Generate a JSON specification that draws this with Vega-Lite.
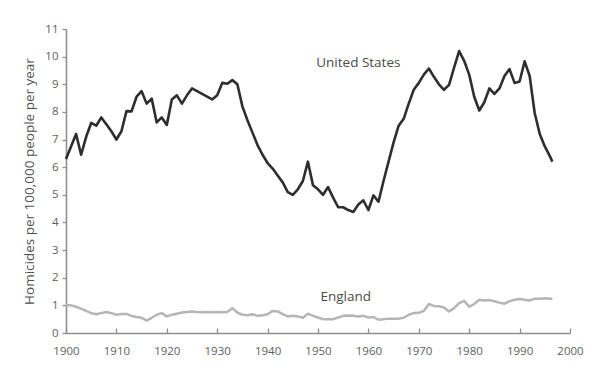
{
  "$schema": "https://vega.github.io/schema/vega-lite/v6.json",
  "width": 504,
  "height": 304,
  "autosize": {"type": "none"},
  "padding": {"left": 66, "top": 29, "right": 43, "bottom": 47},
  "background": "white",
  "config": {
    "view": {"stroke": null},
    "font": "Open Sans",
    "axis": {"grid": false, "domainColor": "#8f8f8f", "domainWidth": 1.6, "tickColor": "#8f8f8f", "tickWidth": 1.3, "labelColor": "#5e5e5e", "labelFontSize": 11.5, "titleColor": "#505050"}
  },
  "datasets": {
    "us": [
      {"year": 1900, "rate": 6.3}, {"year": 1901, "rate": 6.75}, {"year": 1902, "rate": 7.2}, {"year": 1903, "rate": 6.45},
      {"year": 1904, "rate": 7.1}, {"year": 1905, "rate": 7.6}, {"year": 1906, "rate": 7.5}, {"year": 1907, "rate": 7.8},
      {"year": 1908, "rate": 7.55}, {"year": 1909, "rate": 7.3}, {"year": 1910, "rate": 7.0}, {"year": 1911, "rate": 7.3},
      {"year": 1912, "rate": 8.03}, {"year": 1913, "rate": 8.02}, {"year": 1914, "rate": 8.55}, {"year": 1915, "rate": 8.75},
      {"year": 1916, "rate": 8.3}, {"year": 1917, "rate": 8.48}, {"year": 1918, "rate": 7.62}, {"year": 1919, "rate": 7.8},
      {"year": 1920, "rate": 7.53}, {"year": 1921, "rate": 8.45}, {"year": 1922, "rate": 8.6}, {"year": 1923, "rate": 8.3},
      {"year": 1924, "rate": 8.6}, {"year": 1925, "rate": 8.85}, {"year": 1926, "rate": 8.75}, {"year": 1927, "rate": 8.65},
      {"year": 1928, "rate": 8.55}, {"year": 1929, "rate": 8.45}, {"year": 1930, "rate": 8.6}, {"year": 1931, "rate": 9.05},
      {"year": 1932, "rate": 9.02}, {"year": 1933, "rate": 9.15}, {"year": 1934, "rate": 9.0}, {"year": 1935, "rate": 8.2},
      {"year": 1936, "rate": 7.7}, {"year": 1937, "rate": 7.25}, {"year": 1938, "rate": 6.8}, {"year": 1939, "rate": 6.45},
      {"year": 1940, "rate": 6.15}, {"year": 1941, "rate": 5.95}, {"year": 1942, "rate": 5.7}, {"year": 1943, "rate": 5.45},
      {"year": 1944, "rate": 5.1}, {"year": 1945, "rate": 5.0}, {"year": 1946, "rate": 5.2}, {"year": 1947, "rate": 5.5},
      {"year": 1948, "rate": 6.2}, {"year": 1949, "rate": 5.35}, {"year": 1950, "rate": 5.2}, {"year": 1951, "rate": 5.0},
      {"year": 1952, "rate": 5.28}, {"year": 1953, "rate": 4.9}, {"year": 1954, "rate": 4.55}, {"year": 1955, "rate": 4.55},
      {"year": 1956, "rate": 4.45}, {"year": 1957, "rate": 4.38}, {"year": 1958, "rate": 4.65}, {"year": 1959, "rate": 4.8},
      {"year": 1960, "rate": 4.45}, {"year": 1961, "rate": 4.98}, {"year": 1962, "rate": 4.75}, {"year": 1963, "rate": 5.5},
      {"year": 1964, "rate": 6.2}, {"year": 1965, "rate": 6.9}, {"year": 1966, "rate": 7.5}, {"year": 1967, "rate": 7.75},
      {"year": 1968, "rate": 8.3}, {"year": 1969, "rate": 8.8}, {"year": 1970, "rate": 9.05}, {"year": 1971, "rate": 9.35},
      {"year": 1972, "rate": 9.57}, {"year": 1973, "rate": 9.27}, {"year": 1974, "rate": 9.0}, {"year": 1975, "rate": 8.8},
      {"year": 1976, "rate": 8.98}, {"year": 1977, "rate": 9.6}, {"year": 1978, "rate": 10.2}, {"year": 1979, "rate": 9.85},
      {"year": 1980, "rate": 9.35}, {"year": 1981, "rate": 8.55}, {"year": 1982, "rate": 8.05}, {"year": 1983, "rate": 8.35},
      {"year": 1984, "rate": 8.85}, {"year": 1985, "rate": 8.65}, {"year": 1986, "rate": 8.85}, {"year": 1987, "rate": 9.3},
      {"year": 1988, "rate": 9.55}, {"year": 1989, "rate": 9.05}, {"year": 1990, "rate": 9.1}, {"year": 1991, "rate": 9.83},
      {"year": 1992, "rate": 9.3}, {"year": 1993, "rate": 7.95}, {"year": 1994, "rate": 7.2}, {"year": 1995, "rate": 6.75},
      {"year": 1996, "rate": 6.4}, {"year": 1996.5, "rate": 6.2}
    ],
    "england": [
      {"year": 1900, "rate": 1.0}, {"year": 1901, "rate": 1.0}, {"year": 1902, "rate": 0.95}, {"year": 1903, "rate": 0.88},
      {"year": 1904, "rate": 0.8}, {"year": 1905, "rate": 0.72}, {"year": 1906, "rate": 0.68}, {"year": 1907, "rate": 0.72},
      {"year": 1908, "rate": 0.76}, {"year": 1909, "rate": 0.72}, {"year": 1910, "rate": 0.66}, {"year": 1911, "rate": 0.69},
      {"year": 1912, "rate": 0.69}, {"year": 1913, "rate": 0.62}, {"year": 1914, "rate": 0.58}, {"year": 1915, "rate": 0.55},
      {"year": 1916, "rate": 0.45}, {"year": 1917, "rate": 0.55}, {"year": 1918, "rate": 0.66}, {"year": 1919, "rate": 0.72},
      {"year": 1920, "rate": 0.6}, {"year": 1921, "rate": 0.66}, {"year": 1922, "rate": 0.7}, {"year": 1923, "rate": 0.74},
      {"year": 1924, "rate": 0.76}, {"year": 1925, "rate": 0.78}, {"year": 1926, "rate": 0.76}, {"year": 1927, "rate": 0.75},
      {"year": 1928, "rate": 0.76}, {"year": 1929, "rate": 0.75}, {"year": 1930, "rate": 0.76}, {"year": 1931, "rate": 0.75},
      {"year": 1932, "rate": 0.76}, {"year": 1933, "rate": 0.9}, {"year": 1934, "rate": 0.74}, {"year": 1935, "rate": 0.66},
      {"year": 1936, "rate": 0.64}, {"year": 1937, "rate": 0.68}, {"year": 1938, "rate": 0.62}, {"year": 1939, "rate": 0.64},
      {"year": 1940, "rate": 0.68}, {"year": 1941, "rate": 0.8}, {"year": 1942, "rate": 0.78}, {"year": 1943, "rate": 0.68},
      {"year": 1944, "rate": 0.6}, {"year": 1945, "rate": 0.62}, {"year": 1946, "rate": 0.6}, {"year": 1947, "rate": 0.55},
      {"year": 1948, "rate": 0.7}, {"year": 1949, "rate": 0.62}, {"year": 1950, "rate": 0.56}, {"year": 1951, "rate": 0.5},
      {"year": 1952, "rate": 0.5}, {"year": 1953, "rate": 0.5}, {"year": 1954, "rate": 0.56}, {"year": 1955, "rate": 0.62},
      {"year": 1956, "rate": 0.63}, {"year": 1957, "rate": 0.62}, {"year": 1958, "rate": 0.6}, {"year": 1959, "rate": 0.62},
      {"year": 1960, "rate": 0.56}, {"year": 1961, "rate": 0.58}, {"year": 1962, "rate": 0.48}, {"year": 1963, "rate": 0.5},
      {"year": 1964, "rate": 0.52}, {"year": 1965, "rate": 0.52}, {"year": 1966, "rate": 0.52}, {"year": 1967, "rate": 0.55},
      {"year": 1968, "rate": 0.66}, {"year": 1969, "rate": 0.72}, {"year": 1970, "rate": 0.73}, {"year": 1971, "rate": 0.8},
      {"year": 1972, "rate": 1.05}, {"year": 1973, "rate": 0.98}, {"year": 1974, "rate": 0.97}, {"year": 1975, "rate": 0.92},
      {"year": 1976, "rate": 0.78}, {"year": 1977, "rate": 0.9}, {"year": 1978, "rate": 1.08}, {"year": 1979, "rate": 1.16},
      {"year": 1980, "rate": 0.95}, {"year": 1981, "rate": 1.05}, {"year": 1982, "rate": 1.2}, {"year": 1983, "rate": 1.18},
      {"year": 1984, "rate": 1.19}, {"year": 1985, "rate": 1.15}, {"year": 1986, "rate": 1.1}, {"year": 1987, "rate": 1.06},
      {"year": 1988, "rate": 1.15}, {"year": 1989, "rate": 1.2}, {"year": 1990, "rate": 1.23}, {"year": 1991, "rate": 1.2},
      {"year": 1992, "rate": 1.18}, {"year": 1993, "rate": 1.24}, {"year": 1994, "rate": 1.24}, {"year": 1995, "rate": 1.26},
      {"year": 1996, "rate": 1.24}, {"year": 1996.5, "rate": 1.24}
    ],
    "labels": [
      {"year": 1958.0, "rate": 9.77, "text": "United States"},
      {"year": 1955.5, "rate": 1.32, "text": "England"}
    ]
  },
  "encoding": {
    "x": {
      "field": "year", "type": "quantitative",
      "scale": {"domain": [1900, 2000], "nice": false, "zero": false},
      "axis": {"title": null, "values": [1900, 1910, 1920, 1930, 1940, 1950, 1960, 1970, 1980, 1990, 2000], "format": "d", "tickSize": -5, "labelPadding": 17, "labelFlush": false}
    },
    "y": {
      "field": "rate", "type": "quantitative",
      "scale": {"domain": [0, 11], "nice": false},
      "axis": {"title": "Homicides per 100,000 people per year", "values": [0,1,2,3,4,5,6,7,8,9,10,11], "tickSize": 4, "labelPadding": 4, "titleFontSize": 13.5, "titleFontWeight": "normal", "titlePadding": 8}
    }
  },
  "layer": [
    {
      "data": {"name": "england"},
      "mark": {"type": "line", "color": "#b5b5b5", "strokeWidth": 2.5, "strokeJoin": "round"}
    },
    {
      "data": {"name": "us"},
      "mark": {"type": "line", "color": "#2e2e2e", "strokeWidth": 2.6, "strokeJoin": "round"}
    },
    {
      "data": {"name": "labels"},
      "mark": {"type": "text", "fontSize": 13.5, "color": "#4a4a4a", "align": "center", "baseline": "middle"},
      "encoding": {"text": {"field": "text"}}
    }
  ]
}
